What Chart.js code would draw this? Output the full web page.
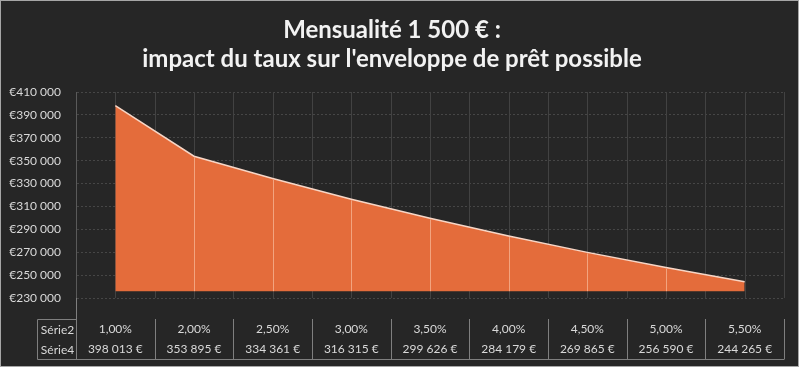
<!DOCTYPE html>
<html>
<head>
<meta charset="utf-8">
<script src="https://cdn.jsdelivr.net/npm/chart.js@4/dist/chart.umd.min.js"></script>
<style>
html, body { margin: 0; padding: 0; background: #262626; }
</style>
</head>
<body>
<canvas id="chart" width="799" height="367"></canvas>
<script>
// chart data
const titleLines = ["Mensualité 1 500 € :", "impact du taux sur l'enveloppe de prêt possible"]
const rates = ["1,00%", "2,00%", "2,50%", "3,00%", "3,50%", "4,00%", "4,50%", "5,00%", "5,50%"]
const amounts = [398013, 353895, 334361, 316315, 299626, 284179, 269865, 256590, 244265]
const rowNames = ["Série2", "Série4"]
const yMin = 230000, yMax = 410000, yStep = 20000
const areaBase = 236000

const FONT = "Lato, 'Open Sans', sans-serif"
const TEXT = "#d9d9d9"

function Spaced(n){
    return String(n).replace(/\B(?=(\d{3})+(?!\d))/g, " ")
}

const xLabels = rates.map(function(r, i){ return [r, Spaced(amounts[i]) + " €"] })

const Decor = {
    id: "decor",
    beforeDraw(chart){
        const ctx = chart.ctx
        ctx.save()
        ctx.fillStyle = "#262626"
        ctx.fillRect(0, 0, chart.width, chart.height)
        ctx.strokeStyle = "#a6a6a6"
        ctx.lineWidth = 1
        ctx.strokeRect(0.5, 0.5, chart.width - 1, chart.height - 1)
        ctx.restore()
    },
    beforeDatasetsDraw(chart){
        const {ctx, chartArea, scales} = chart
        const x = scales.x
        ctx.save()
        ctx.strokeStyle = "#424242"
        ctx.lineWidth = 1
        // lines at every category boundary and centre
        for (let v = 0; v <= rates.length - 1 + 0.5; v += 0.5){
            const px = Math.round(x.getPixelForValue(v)) + 0.5
            ctx.beginPath()
            ctx.moveTo(px, chartArea.top)
            ctx.lineTo(px, chartArea.bottom)
            ctx.stroke()
        }
        ctx.restore()
    },
    afterDatasetsDraw(chart){
        const {ctx, scales} = chart
        const x = scales.x, y = scales.y
        ctx.save()
        ctx.strokeStyle = "#f2a47f"
        ctx.lineWidth = 1
        const base = y.getPixelForValue(areaBase)
        amounts.forEach(function(a, i){
            if (i === 0 || i === amounts.length - 1) return
            const px = Math.round(x.getPixelForValue(i)) + 0.5
            ctx.beginPath()
            ctx.moveTo(px, y.getPixelForValue(a) + 1)
            ctx.lineTo(px, base)
            ctx.stroke()
        })
        ctx.restore()
    },
    afterDraw(chart){
        const {ctx, chartArea, scales} = chart
        const x = scales.x
        const top = chartArea.bottom + 21, rowH = 20, bottom = top + rowH * 2
        const left = chartArea.left - 39
        ctx.save()
        ctx.strokeStyle = "#7f7f7f"
        ctx.lineWidth = 1
        ctx.beginPath()
        // header cell
        ctx.moveTo(left + 0.5, top + 0.5)
        ctx.lineTo(chartArea.left + 0.5, top + 0.5)
        ctx.moveTo(left + 0.5, top + 0.5)
        ctx.lineTo(left + 0.5, bottom + 0.5)
        ctx.lineTo(chartArea.right + 0.5, bottom + 0.5)
        for (let i = 0; i <= rates.length; i++){
            const px = Math.round(x.getPixelForValue(i - 0.5)) + 0.5
            ctx.moveTo(px, i === 0 ? chartArea.bottom : top)
            ctx.lineTo(px, bottom)
        }
        ctx.stroke()
        ctx.fillStyle = TEXT
        ctx.font = "12px " + FONT
        ctx.textAlign = "center"
        ctx.textBaseline = "middle"
        rowNames.forEach(function(n, r){
            ctx.fillText(n, (left + chartArea.left) / 2 + 1, top + rowH * r + rowH / 2 + 1)
        })
        ctx.restore()
    }
}

new Chart(document.getElementById("chart"), {
    type: "line",
    data: {
        labels: xLabels,
        datasets: [{
            label: rowNames[1],
            data: amounts,
            borderColor: "#f7d6c6",
            borderWidth: 1.5,
            backgroundColor: "#e46c3b",
            fill: {value: areaBase},
            pointRadius: 0,
            tension: 0
        }]
    },
    options: {
        responsive: false,
        animation: false,
        devicePixelRatio: 1,
        layout: {padding: {left: 0, right: 15, top: 0, bottom: 0}},
        plugins: {
            legend: {display: false},
            tooltip: {enabled: false},
            title: {
                display: true,
                text: titleLines,
                color: "#f2f2f2",
                font: {family: FONT, size: 24, weight: "bold", lineHeight: 29 / 24},
                padding: {top: 16, bottom: 18}
            }
        },
        scales: {
            x: {
                offset: true,
                grid: {display: false, drawTicks: false},
                border: {display: false},
                ticks: {
                    color: TEXT,
                    font: {family: FONT, size: 12, lineHeight: 20 / 12},
                    padding: 21,
                    maxRotation: 0,
                    autoSkip: false
                },
                afterFit(scale){ scale.height = 69 }
            },
            y: {
                min: yMin,
                max: yMax,
                grid: {color: "#464646", drawTicks: false, tickBorderDash: [2, 2]},
                border: {display: true, color: "#5a5a5a", dash: [2, 2]},
                ticks: {
                    stepSize: yStep,
                    color: TEXT,
                    padding: 15,
                    font: {family: FONT, size: 12},
                    callback: function(v){ return "€" + Spaced(v) }
                },
                afterFit(scale){ scale.width = 76 }
            }
        }
    },
    plugins: [Decor]
})
</script>
</body>
</html>
